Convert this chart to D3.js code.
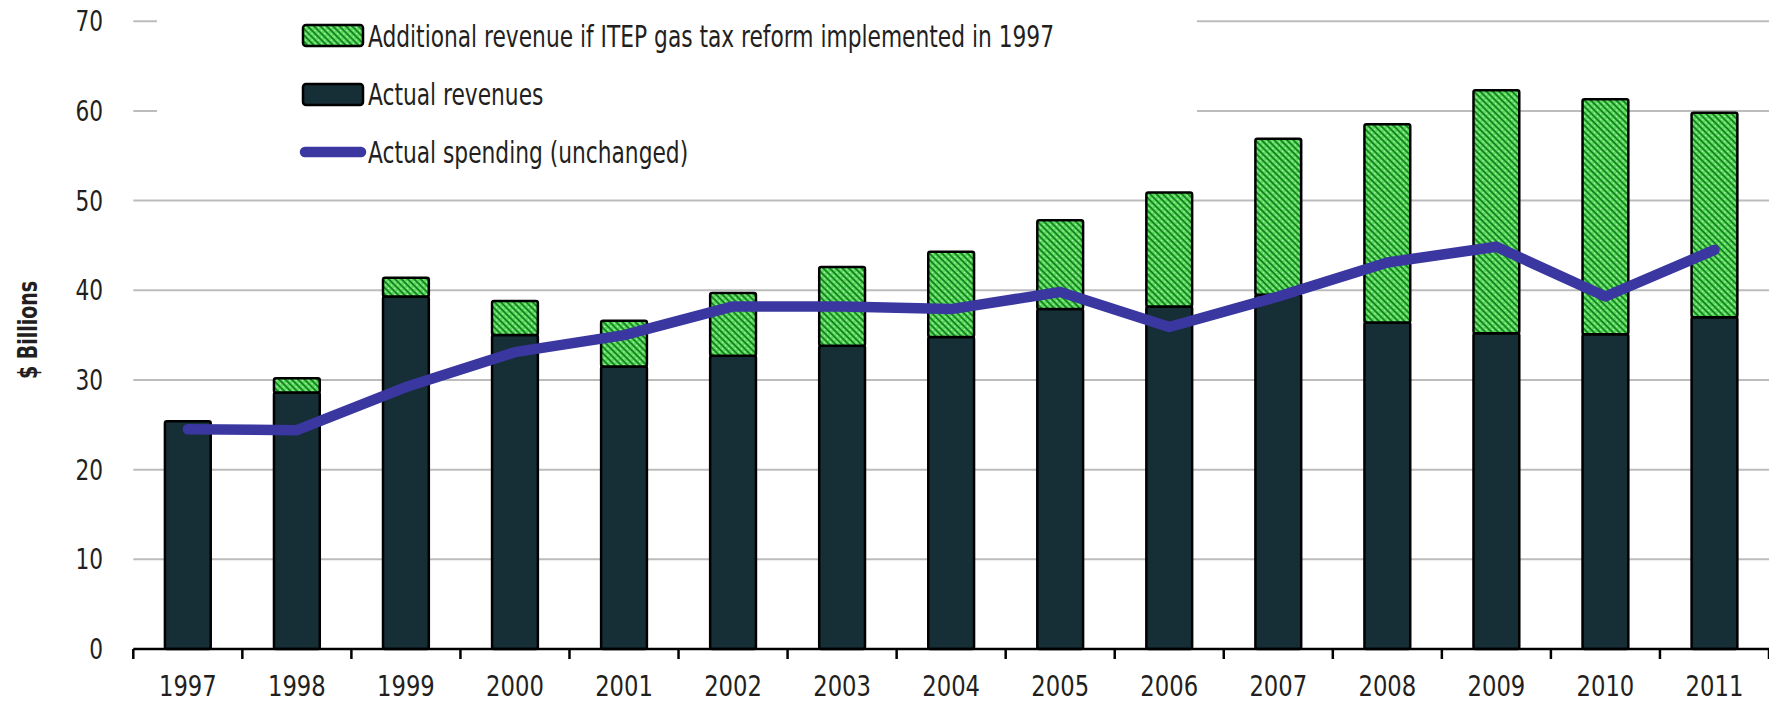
<!DOCTYPE html>
<html>
<head>
<meta charset="utf-8">
<script src="https://cdn.jsdelivr.net/npm/d3@7"></script>
<style>
  html, body { margin: 0; padding: 0; background: #fff; }
  svg text { font-family: "Liberation Sans Narrow", "DejaVu Sans Condensed", "Roboto", sans-serif; fill: #231f20; }
</style>
</head>
<body>
<div class="gas-tax-chart"></div>
<script>
"use strict";

const years = ["1997", "1998", "1999", "2000", "2001", "2002", "2003", "2004",
               "2005", "2006", "2007", "2008", "2009", "2010", "2011"];
const actual_revenues = [25.4, 28.6, 39.3, 35.0, 31.5, 32.7, 33.8, 34.8,
                         37.9, 38.2, 39.5, 36.4, 35.2, 35.1, 37.0];
const additional_revenue = [0, 1.6, 2.1, 3.8, 5.1, 7.0, 8.8, 9.5,
                            9.9, 12.7, 17.4, 22.1, 27.1, 26.2, 22.8];
const actual_spending = [24.5, 24.4, 29.2, 33.1, 35.0, 38.2, 38.2, 37.9,
                         39.8, 35.9, 39.3, 43.1, 44.85, 39.3, 44.5];
const y_ticks = [0, 10, 20, 30, 40, 50, 60, 70];
const legend_labels = [
    "Additional revenue if ITEP gas tax reform implemented in 1997",
    "Actual revenues",
    "Actual spending (unchanged)"
];

window.onload = () => main();

function main() {
    const config = {
        width: 1769,
        height: 705,
        left: 133.3,
        right: 1769,
        top: 21.2,
        bottom: 649
    };
    create_chart(config);
}

// the original uses a condensed face; squeeze the fallback font to match
function condense(selection, factor) {
    selection.each(function() {
        const w = this.getComputedTextLength();
        d3.select(this)
            .attr("textLength", w * factor)
            .attr("lengthAdjust", "spacingAndGlyphs");
    });
}

function create_chart(config) {
    const rows = years.map((year, i) => ({
        year: year,
        actual: actual_revenues[i],
        additional: additional_revenue[i],
        spending: actual_spending[i]
    }));

    const svg = d3.select(".gas-tax-chart")
        .append("svg")
        .attr("width", config.width)
        .attr("height", config.height);

    // green hatch fill for the extra revenue
    const defs = svg.append("defs");
    const pattern = defs.append("pattern")
        .attr("id", "hatch")
        .attr("patternUnits", "userSpaceOnUse")
        .attr("width", 4.5)
        .attr("height", 4.5)
        .attr("patternTransform", "rotate(-45)");
    pattern.append("rect")
        .attr("width", 4.5).attr("height", 4.5)
        .attr("fill", "#5bdb5b");
    pattern.append("line")
        .attr("x1", 1).attr("y1", 0).attr("x2", 1).attr("y2", 4.5)
        .attr("stroke", "#0f7d1d").attr("stroke-width", 1.7);
    pattern.append("circle")
        .attr("cx", 3.4).attr("cy", 1.5).attr("r", 0.6)
        .attr("fill", "#e8ffe8");

    const x = d3.scaleBand()
        .domain(years)
        .range([config.left, config.right])
        .paddingInner(0.58)
        .paddingOuter(0.29);
    const step = x.step();

    const y = d3.scaleLinear()
        .domain([0, 70])
        .range([config.bottom, config.top]);

    // gridlines
    svg.append("g")
        .selectAll("line")
        .data(y_ticks.filter(t => t > 0))
        .enter()
        .append("line")
        .attr("x1", config.left)
        .attr("x2", config.right)
        .attr("y1", d => y(d))
        .attr("y2", d => y(d))
        .attr("stroke", "#bcbcbc")
        .attr("stroke-width", 2);

    // y labels
    svg.append("g")
        .selectAll("text")
        .data(y_ticks)
        .enter()
        .append("text")
        .attr("x", 103)
        .attr("y", d => y(d))
        .attr("dy", "0.36em")
        .attr("text-anchor", "end")
        .attr("font-size", 28)
        .text(d => d)
        .call(condense, 0.86);

    svg.append("text")
        .attr("transform", "translate(37,330) rotate(-90)")
        .attr("text-anchor", "middle")
        .attr("font-size", 27)
        .attr("font-weight", "bold")
        .text("$ Billions")
        .call(condense, 0.78);

    // stacked bars
    const stacked = d3.stack().keys(["actual", "additional"])(rows);
    const fills = ["#162e36", "url(#hatch)"];
    svg.append("g")
        .selectAll("g")
        .data(stacked)
        .enter()
        .append("g")
        .attr("fill", (d, i) => fills[i])
        .selectAll("rect")
        .data(d => d.filter(s => s[1] - s[0] > 0))
        .enter()
        .append("rect")
        .attr("x", d => x(d.data.year))
        .attr("width", x.bandwidth())
        .attr("y", d => y(d[1]))
        .attr("height", d => y(d[0]) - y(d[1]))
        .attr("rx", 2)
        .attr("stroke", "#000")
        .attr("stroke-width", 2.5);

    // spending line
    const line = d3.line()
        .x(d => x(d.year) + x.bandwidth() / 2)
        .y(d => y(d.spending));
    svg.append("path")
        .datum(rows)
        .attr("d", line)
        .attr("fill", "none")
        .attr("stroke", "#3a37a0")
        .attr("stroke-width", 10.5)
        .attr("stroke-linejoin", "round")
        .attr("stroke-linecap", "round");

    // x axis
    const axis = svg.append("g")
        .attr("transform", `translate(0,${config.bottom})`)
        .call(d3.axisBottom(x).tickSize(0).tickPadding(26));
    axis.select(".domain").remove();
    axis.selectAll("text")
        .attr("font-size", 29)
        .attr("fill", "#231f20")
        .call(condense, 0.87);
    axis.append("line")
        .attr("x1", config.left)
        .attr("x2", config.right)
        .attr("stroke", "#000")
        .attr("stroke-width", 2.5);
    axis.selectAll(".slot-tick")
        .data(d3.range(years.length + 1))
        .enter()
        .append("line")
        .attr("class", "slot-tick")
        .attr("x1", i => x.range()[0] + i * step)
        .attr("x2", i => x.range()[0] + i * step)
        .attr("y1", 0)
        .attr("y2", 10)
        .attr("stroke", "#000")
        .attr("stroke-width", 2.5);

    // legend
    const legend = svg.append("g");
    legend.append("rect")
        .attr("x", 157).attr("y", 0)
        .attr("width", 1040).attr("height", 125)
        .attr("fill", "#fff");
    const rows_y = [36, 94, 152];
    legend.append("rect")
        .attr("x", 303).attr("y", 25)
        .attr("width", 60).attr("height", 21)
        .attr("rx", 3)
        .attr("fill", "url(#hatch)")
        .attr("stroke", "#000").attr("stroke-width", 2.5);
    legend.append("rect")
        .attr("x", 303).attr("y", 84)
        .attr("width", 60).attr("height", 21)
        .attr("rx", 3)
        .attr("fill", "#162e36")
        .attr("stroke", "#000").attr("stroke-width", 2.5);
    legend.append("line")
        .attr("x1", 305).attr("x2", 361)
        .attr("y1", rows_y[2]).attr("y2", rows_y[2])
        .attr("stroke", "#3a37a0")
        .attr("stroke-width", 10.5)
        .attr("stroke-linecap", "round");
    legend.selectAll("text")
        .data(legend_labels)
        .enter()
        .append("text")
        .attr("x", 368)
        .attr("y", (d, i) => rows_y[i])
        .attr("dy", "0.36em")
        .attr("font-size", 31)
        .text(d => d)
        .call(condense, 0.78);
}
</script>
</body>
</html>
